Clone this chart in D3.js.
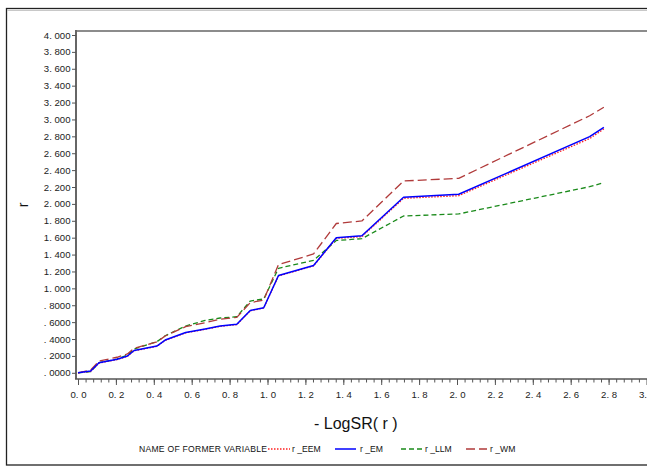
<!DOCTYPE html>
<html>
<head>
<meta charset="utf-8">
<script src="https://cdn.jsdelivr.net/npm/d3@7"></script>
<style>
  html, body { margin: 0; padding: 0; background: #fff; }
  svg { display: block; font-family: "Liberation Sans", Arial, sans-serif; }
</style>
</head>
<body>
<svg id="chart" width="647" height="466"></svg>
<script>
// -LogSR(r) positions shared by every series
const logSR = [0, 0.067, 0.111, 0.206, 0.261, 0.296, 0.416, 0.460, 0.568, 0.671, 0.750, 0.838,
               0.909, 0.980, 1.058, 1.243, 1.363, 1.498, 1.718, 2.009, 2.700, 2.775];

// r values for each estimation method
const rEEM = [0, 0.018, 0.116, 0.156, 0.195, 0.260, 0.313, 0.384, 0.473, 0.515, 0.550, 0.570,
              0.734, 0.767, 1.146, 1.266, 1.592, 1.612, 2.066, 2.097, 2.774, 2.887];
const rEM  = [0, 0.021, 0.120, 0.160, 0.199, 0.264, 0.317, 0.388, 0.477, 0.519, 0.554, 0.574,
              0.738, 0.771, 1.152, 1.271, 1.600, 1.623, 2.078, 2.114, 2.796, 2.907];
const rLLM = [0, 0.013, 0.120, 0.163, 0.211, 0.282, 0.368, 0.439, 0.554, 0.620, 0.649, 0.664,
              0.850, 0.874, 1.237, 1.332, 1.567, 1.588, 1.857, 1.881, 2.204, 2.251];
const rWM  = [0, 0.033, 0.140, 0.184, 0.223, 0.290, 0.365, 0.436, 0.546, 0.593, 0.634, 0.657,
              0.830, 0.862, 1.282, 1.407, 1.768, 1.798, 2.271, 2.303, 3.044, 3.144];

const seriesNames = ["r _EEM", "r _EM", "r _LLM", "r _WM"];
const seriesValues = [rEEM, rEM, rLLM, rWM];

const xTicks = [0, 0.2, 0.4, 0.6, 0.8, 1.0, 1.2, 1.4, 1.6, 1.8, 2.0, 2.2, 2.4, 2.6, 2.8, 3.0];
const yTicks = [0, 0.2, 0.4, 0.6, 0.8, 1.0, 1.2, 1.4, 1.6, 1.8, 2.0, 2.2, 2.4, 2.6, 2.8,
                3.0, 3.2, 3.4, 3.6, 3.8, 4.0];

const styles = [
  { color: "#ff2020", dash: "1.5,1.5", width: 1.3 },
  { color: "#0000ff", dash: null,      width: 1.5 },
  { color: "#1a8a1a", dash: "5,3",     width: 1.3 },
  { color: "#b03a3a", dash: "9,4",     width: 1.3 }
];

const svg = d3.select("#chart");

const x = d3.scaleLinear().domain([0, 3]).range([78, 646.5]);
const y = d3.scaleLinear().domain([0, 4]).range([372.8, 35]);

const frameLeft = 76, frameTop = 31, frameBottom = 379;

// outer frame
svg.append("rect")
  .attr("x", 6.5).attr("y", 8.5).attr("width", 700).attr("height", 456.5)
  .attr("fill", "none").attr("stroke", "#222").attr("stroke-width", 1.3);
svg.append("line")
  .attr("x1", 7).attr("x2", 647).attr("y1", 10.5).attr("y2", 10.5)
  .attr("stroke", "#c8c8c8").attr("stroke-width", 1);

// plot frame
svg.append("line")
  .attr("x1", frameLeft).attr("x2", 647).attr("y1", frameTop).attr("y2", frameTop)
  .attr("stroke", "#8c8c8c").attr("stroke-width", 2);
svg.append("line")
  .attr("x1", frameLeft).attr("x2", frameLeft).attr("y1", frameTop - 1).attr("y2", frameBottom)
  .attr("stroke", "#666").attr("stroke-width", 2);
svg.append("line")
  .attr("x1", frameLeft - 1).attr("x2", 647).attr("y1", frameBottom).attr("y2", frameBottom)
  .attr("stroke", "#555").attr("stroke-width", 1.5);

// y axis
const yFmt = v => v >= 1 ? d3.format(".3f")(v).replace(".", ". ")
                         : ". " + d3.format(".4f")(v).slice(2);
const yAxis = svg.append("g")
  .attr("transform", `translate(${frameLeft},0)`)
  .call(d3.axisLeft(y).tickValues(yTicks).tickFormat(yFmt).tickSize(4).tickPadding(1.5));
yAxis.select(".domain").remove();
yAxis.selectAll(".tick line").attr("stroke", "#555");
yAxis.selectAll(".tick text")
  .attr("font-size", 9.6).attr("fill", "#222")
  .style("font-family", "'Liberation Sans', Arial, sans-serif");

// x axis, minor ticks then labelled major ticks
const minorTicks = d3.range(0, 75).map(i => i * 0.04).filter(v => v <= 3.0001);
const xMinor = svg.append("g")
  .attr("transform", `translate(0,${frameBottom})`)
  .call(d3.axisBottom(x).tickValues(minorTicks).tickFormat("").tickSize(3.5));
xMinor.select(".domain").remove();
xMinor.selectAll(".tick line").attr("stroke", "#555");

const xAxis = svg.append("g")
  .attr("transform", `translate(0,${frameBottom})`)
  .call(d3.axisBottom(x).tickValues(xTicks)
        .tickFormat(v => d3.format(".1f")(v).replace(".", ". "))
        .tickSize(6).tickPadding(6));
xAxis.select(".domain").remove();
xAxis.selectAll(".tick line").attr("stroke", "#555");
xAxis.selectAll(".tick text")
  .attr("font-size", 9.6).attr("fill", "#222")
  .style("font-family", "'Liberation Sans', Arial, sans-serif");

// axis titles
svg.append("text")
  .attr("x", 314).attr("y", 428.5)
  .attr("font-size", 16).attr("fill", "#111")
  .text("- LogSR( r )");
svg.append("text")
  .attr("transform", "translate(28,205) rotate(-90)")
  .attr("text-anchor", "middle")
  .attr("font-size", 14).attr("fill", "#111")
  .text("r");

// series lines
const line = d3.line().x((d, i) => x(logSR[i])).y(d => y(d));
const order = [2, 3, 0, 1];
order.forEach(k => {
  const s = styles[k];
  svg.append("path")
    .datum(seriesValues[k])
    .attr("d", line)
    .attr("fill", "none")
    .attr("stroke", s.color)
    .attr("stroke-width", s.width)
    .attr("stroke-dasharray", s.dash)
    .attr("stroke-linejoin", "round");
});

// legend
const legY = 449;
svg.append("text")
  .attr("x", 139).attr("y", legY + 3.2)
  .attr("font-size", 8.6).attr("fill", "#111")
  .attr("textLength", 128).attr("lengthAdjust", "spacing")
  .text("NAME OF FORMER VARIABLE");
const legItems = [
  { x0: 268, x1: 290, tx: 292 },
  { x0: 335, x1: 356, tx: 360 },
  { x0: 401, x1: 422, tx: 425 },
  { x0: 466, x1: 487, tx: 490 }
];
legItems.forEach((it, k) => {
  const s = styles[k];
  svg.append("line")
    .attr("x1", it.x0).attr("x2", it.x1).attr("y1", legY).attr("y2", legY)
    .attr("stroke", s.color).attr("stroke-width", s.width)
    .attr("stroke-dasharray", s.dash);
  svg.append("text")
    .attr("x", it.tx).attr("y", legY + 3.2)
    .attr("font-size", 8.6).attr("fill", "#111")
    .text(seriesNames[k]);
});
</script>
</body>
</html>
